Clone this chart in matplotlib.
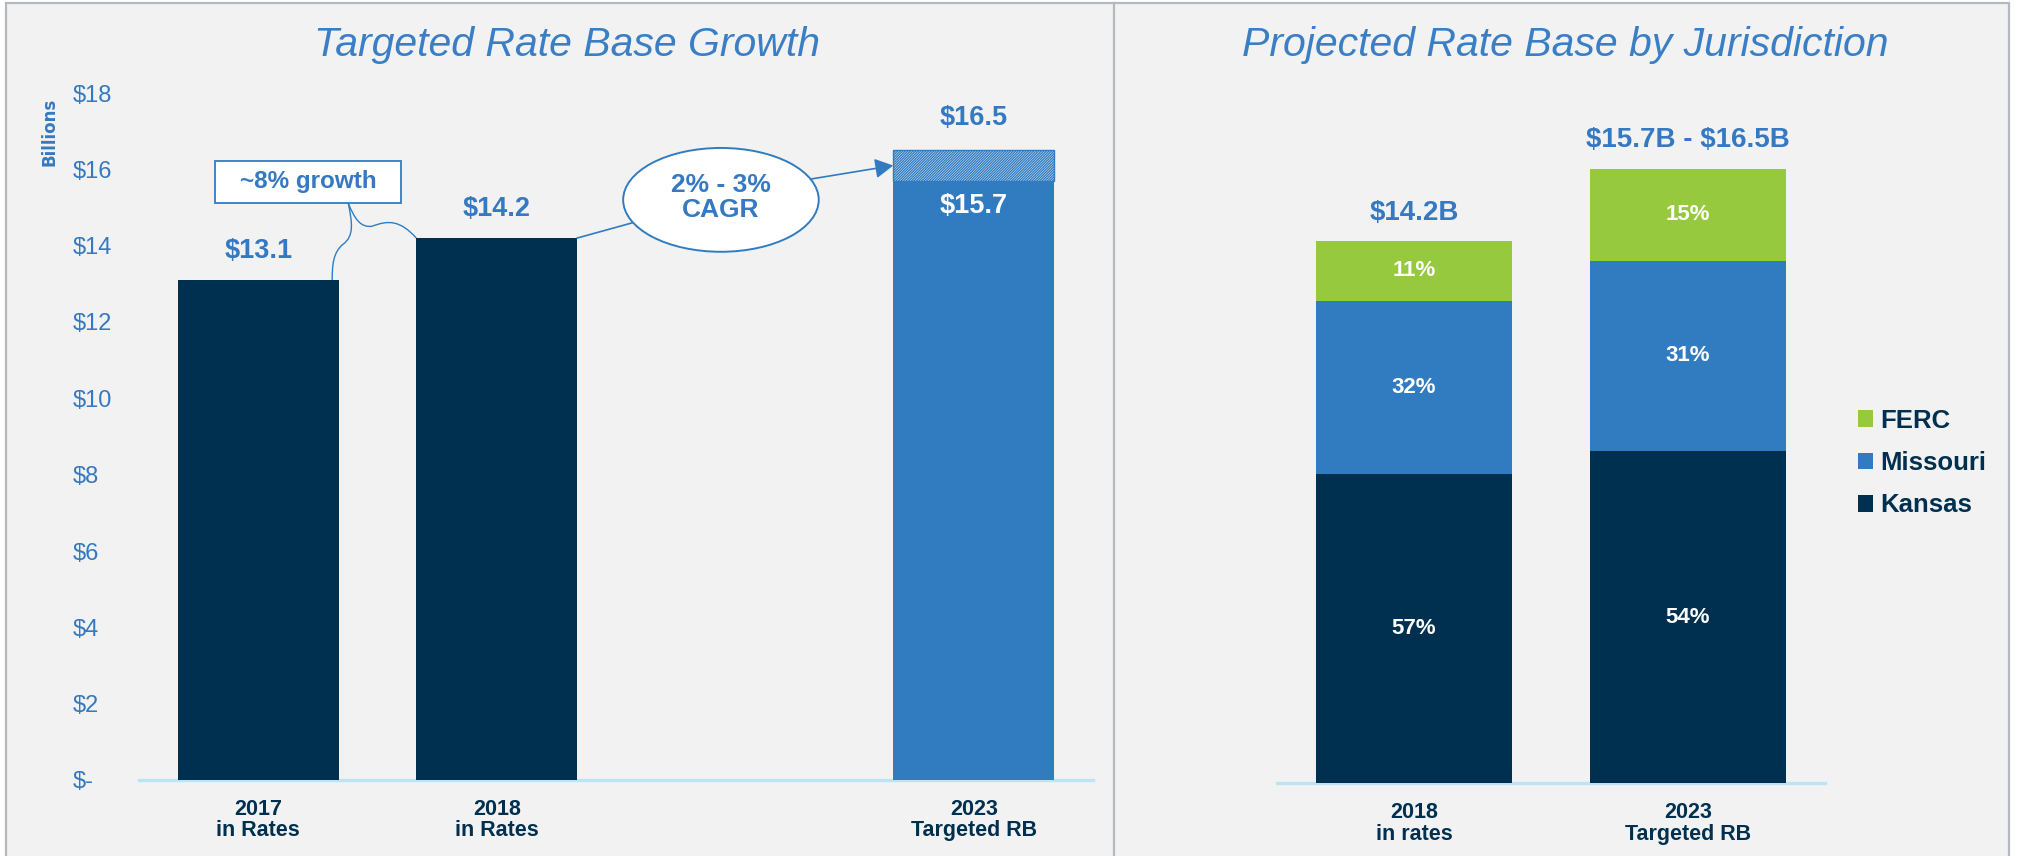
import numpy as np
import matplotlib
matplotlib.use("Agg")
import matplotlib.pyplot as plt
from matplotlib.patches import Rectangle, Ellipse, PathPatch, FancyArrowPatch
from matplotlib.path import Path
from matplotlib.lines import Line2D

plt.rcParams['font.family'] = ['Liberation Sans', 'DejaVu Sans']
plt.rcParams['hatch.linewidth'] = 1.0

# ---------------- data ----------------
left_categories = ['2017\nin Rates', '2018\nin Rates', '', '2023\nTargeted RB']
left_values = [13.1, 14.2, None, 15.7]
left_target_high = 16.5
growth_text = '~8% growth'
cagr_text = '2% - 3%\nCAGR'

right_categories = ['2018\nin rates', '2023\nTargeted RB']
right_totals = [14.2, 16.1]
right_total_labels = ['$14.2B', '$15.7B - $16.5B']
jurisdictions = ['Kansas', 'Missouri', 'FERC']
kansas_share = [57, 54]
missouri_share = [32, 31]
ferc_share = [11, 15]

y_ticks = [0, 2, 4, 6, 8, 10, 12, 14, 16, 18]

# ---------------- style ----------------
NAVY = '#003050'
BLUE = '#317CC1'
GREEN = '#96C93D'
TXT_BLUE = '#3479C2'
TITLE_BLUE = '#3A7FC6'
BG = '#F2F2F2'
BORDER = '#B4B9BF'
AXLINE = '#BDE3F7'

W, H = 2017, 856
fig = plt.figure(figsize=(W / 100, H / 100), dpi=100)
fig.patch.set_facecolor('white')

# panel background and borders
fig.add_artist(Rectangle((6 / W, -0.05), (2009 - 6) / W, 1.05 - 3 / H,
                         transform=fig.transFigure, facecolor=BG,
                         edgecolor=BORDER, lw=1.6, zorder=0))
fig.add_artist(Line2D([1114 / W, 1114 / W], [0, 1 - 3 / H], transform=fig.transFigure,
                      color=BORDER, lw=1.6, zorder=0))

fig.text(567 / W, 1 - 45 / H, 'Targeted Rate Base Growth', ha='center', va='center',
         fontsize=29.5, style='italic', color=TITLE_BLUE)
fig.text(1565 / W, 1 - 45 / H, 'Projected Rate Base by Jurisdiction', ha='center',
         va='center', fontsize=29.5, style='italic', color=TITLE_BLUE)
fig.text(49 / W, 1 - 132 / H, 'Billions', rotation=90, ha='center', va='center',
         fontsize=12, fontweight='bold', color=TXT_BLUE, family='DejaVu Sans')

# ---------------- left chart ----------------
ax1 = fig.add_axes([139 / W, (H - 780) / H, (1093 - 139) / W, (780 - 93) / H])
ax1.set_facecolor('none')
bw1 = 0.675
pos = [i for i, v in enumerate(left_values) if v is not None]
vals = [v for v in left_values if v is not None]
colors1 = [NAVY, NAVY, BLUE]
ax1.bar(pos, vals, width=bw1, color=colors1, zorder=3, linewidth=0)
# hatched upper range
ax1.bar(pos[-1], left_target_high - vals[-1], bottom=vals[-1], width=bw1,
        facecolor='white', edgecolor=BLUE, hatch='/' * 13, lw=1.0, zorder=3)

ax1.set_xlim(-0.5, len(left_categories) - 0.5)
ax1.set_ylim(0, 18)
ax1.set_xticks(range(len(left_categories)))
ax1.set_xticklabels(left_categories, fontsize=15.5, fontweight='bold', color=NAVY,
                    linespacing=1.0)
ax1.set_yticks(y_ticks)
ax1.set_yticklabels(['$-' if t == 0 else f'${t}' for t in y_ticks], ha='left')
ax1.tick_params(axis='y', length=0, labelsize=17, labelcolor=TXT_BLUE, pad=48)
ax1.tick_params(axis='x', length=0, pad=14)
for s in ['top', 'right', 'left']:
    ax1.spines[s].set_visible(False)
ax1.spines['bottom'].set_color(AXLINE)
ax1.spines['bottom'].set_linewidth(2.4)
ax1.spines['bottom'].set_zorder(2)

for p, v in zip(pos[:-1], vals[:-1]):
    ax1.annotate(f'${v:.1f}', (p, v), xytext=(0, 21), textcoords='offset points',
                 ha='center', va='center', fontsize=19.5, fontweight='bold',
                 color=TXT_BLUE, parse_math=False)
ax1.annotate(f'${vals[-1]:.1f}', (pos[-1], vals[-1]), xytext=(0, -18),
             textcoords='offset points', ha='center', va='center', fontsize=19.5,
             fontweight='bold', color='white', zorder=5, parse_math=False)
ax1.annotate(f'${left_target_high:.1f}', (pos[-1], left_target_high), xytext=(0, 23),
             textcoords='offset points', ha='center', va='center', fontsize=19.5,
             fontweight='bold', color=TXT_BLUE, parse_math=False)

# ~8% growth box
bx0, bx1, by0, by1 = -0.18, 0.60, vals[0] + 2.02, vals[0] + 3.12
ax1.add_patch(Rectangle((bx0, by0), bx1 - bx0, by1 - by0, facecolor='white',
                        edgecolor=BLUE, lw=1.3, zorder=4))
ax1.text((bx0 + bx1) / 2, (by0 + by1) / 2, growth_text, ha='center', va='center',
         fontsize=17.5, fontweight='bold', color=TXT_BLUE, zorder=5)
ox, oy = 0.377, by0
b1x, b1y = pos[0] + 0.31, vals[0]
b2x, b2y = pos[1] - bw1 / 2, vals[1]
path1 = Path([(ox, oy), (0.394, 14.62), (0.403, 14.25), (0.356, 14.04),
              (0.314, 13.83), (0.310, 13.49), (b1x, b1y)],
             [Path.MOVETO, Path.CURVE4, Path.CURVE4, Path.CURVE4,
              Path.CURVE4, Path.CURVE4, Path.CURVE4])
path2 = Path([(ox, oy), (0.403, 14.72), (0.428, 14.46), (0.478, 14.51),
              (0.545, 14.67), (0.595, 14.67), (b2x, b2y)],
             [Path.MOVETO, Path.CURVE4, Path.CURVE4, Path.CURVE4,
              Path.CURVE4, Path.CURVE4, Path.CURVE4])
for pth in (path1, path2):
    ax1.add_patch(PathPatch(pth, facecolor='none', edgecolor=BLUE, lw=1.0, zorder=4))

# CAGR ellipse
ecx, ecy, ea, eb = 1.94, 15.2, 0.41, 1.36
ax1.add_patch(Ellipse((ecx, ecy), 2 * ea, 2 * eb, facecolor='white', edgecolor=BLUE,
                      lw=1.4, zorder=4))
ax1.text(ecx, ecy + 0.05, cagr_text, ha='center', va='center', fontsize=19,
         fontweight='bold', color=TXT_BLUE, linespacing=1.05, zorder=5)
th1 = np.deg2rad(206)
ax1.plot([pos[1] + bw1 / 2, ecx + ea * np.cos(th1)], [vals[1], ecy + eb * np.sin(th1)],
         color=BLUE, lw=1.2, zorder=3.5)
th2 = np.deg2rad(23.6)
ax1.add_patch(FancyArrowPatch((ecx + ea * np.cos(th2), ecy + eb * np.sin(th2)),
                              (pos[-1] - bw1 / 2, (vals[-1] + left_target_high) / 2),
                              arrowstyle='-|>,head_length=11,head_width=6',
                              color=BLUE, lw=1.2, shrinkA=0, shrinkB=0, zorder=4))

# ---------------- right chart ----------------
ax2 = fig.add_axes([1277 / W, (H - 783) / H, (1825 - 1277) / W, (783 - 96) / H])
ax2.set_facecolor('none')
bw2 = 0.715
x2 = np.arange(len(right_categories))
shares = [kansas_share, missouri_share, ferc_share]
seg_colors = [NAVY, BLUE, GREEN]
bottom = np.zeros(len(x2))
handles = []
for name, sh, c in zip(jurisdictions, shares, seg_colors):
    h = np.array(right_totals) * np.array(sh) / 100.0
    b = ax2.bar(x2, h, bottom=bottom, width=bw2, color=c, label=name, zorder=3,
                linewidth=0.0)
    handles.append(b)
    for xi, hi, bi, si in zip(x2, h, bottom, sh):
        ax2.text(xi, bi + hi / 2, f'{si}%', ha='center', va='center', fontsize=16,
                 fontweight='bold', color='white', zorder=5)
    bottom = bottom + h
for xi, tot, lab in zip(x2, right_totals, right_total_labels):
    ax2.annotate(lab, (xi, tot), xytext=(0, 20.5), textcoords='offset points',
                 ha='center', va='center', fontsize=20, fontweight='bold',
                 color=TXT_BLUE, parse_math=False)

ax2.set_xlim(-0.5, len(right_categories) - 0.5)
ax2.set_ylim(0, 18)
ax2.set_xticks(x2)
ax2.set_xticklabels(right_categories, fontsize=15.5, fontweight='bold', color=NAVY,
                    linespacing=1.05)
ax2.set_yticks([])
ax2.tick_params(axis='x', length=0, pad=14)
for s in ['top', 'right', 'left']:
    ax2.spines[s].set_visible(False)
ax2.spines['bottom'].set_color(AXLINE)
ax2.spines['bottom'].set_linewidth(2.4)
ax2.spines['bottom'].set_zorder(2)

leg = fig.legend(handles[::-1], jurisdictions[::-1], loc='center left',
                 bbox_to_anchor=(1858 / W, 1 - 463 / H), bbox_transform=fig.transFigure,
                 frameon=False, fontsize=18.5, handlelength=0.6, handleheight=0.62,
                 handletextpad=0.25, labelspacing=0.72, borderpad=0, borderaxespad=0)
for t in leg.get_texts():
    t.set_color(NAVY)
    t.set_fontweight('bold')

fig.savefig('out.png', dpi=100, facecolor=fig.get_facecolor())
